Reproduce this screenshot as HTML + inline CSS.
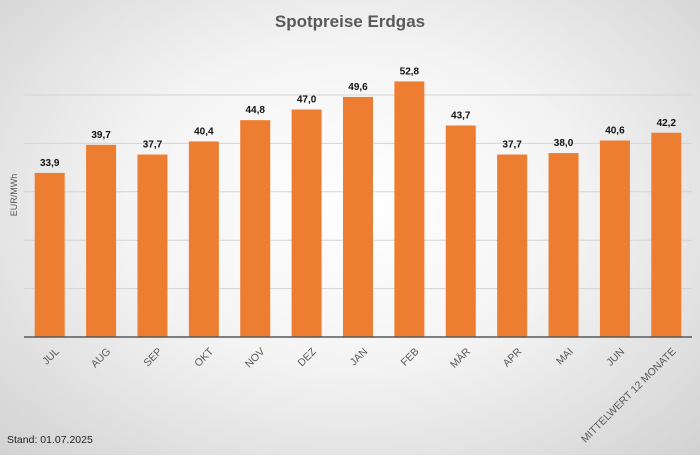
<!DOCTYPE html>
<html><head><meta charset="utf-8"><style>
html,body{margin:0;padding:0}
body{width:700px;height:455px;overflow:hidden;font-family:"Liberation Sans",sans-serif}
#wrap{position:relative;width:700px;height:455px;background:radial-gradient(ellipse at 50% 45%,#ffffff 0%,#f4f4f4 45%,#d2d2d2 100%)}
</style></head><body>
<div id="wrap">
<svg id="c" width="700" height="455"></svg>
</div>
<script>
const categories=["JUL","AUG","SEP","OKT","NOV","DEZ","JAN","FEB","MÄR","APR","MAI","JUN","MITTELWERT 12 MONATE"];
const values=[33.9,39.7,37.7,40.4,44.8,47.0,49.6,52.8,43.7,37.7,38.0,40.6,42.2];
const valueLabels=["33,9","39,7","37,7","40,4","44,8","47,0","49,6","52,8","43,7","37,7","38,0","40,6","42,2"];
const gridTicks=[10,20,30,40,50];
const NS="http://www.w3.org/2000/svg";
const svg=document.getElementById('c');
const x0=24,x1=692,yBase=337,pxPerUnit=4.84;
const band=(x1-x0)/categories.length;
const xc=i=>x0+band*(i+0.5);
const y=v=>yBase-v*pxPerUnit;
function mk(t,a){const e=document.createElementNS(NS,t);for(const k in a)e.setAttribute(k,a[k]);svg.appendChild(e);return e;}
let t=mk('text',{x:350,y:27,'text-anchor':'middle','font-size':17,'font-weight':'bold',fill:'#595959'});t.textContent='Spotpreise Erdgas';


gridTicks.forEach(v=>{const l=mk('line',{x1:x0,x2:x1,y1:y(v),y2:y(v),stroke:'#d4d4d4','stroke-width':1});

});
t=mk('text',{x:0,y:0,transform:'translate(17,195) rotate(-90)','text-anchor':'middle','font-size':9,fill:'#595959'});t.textContent='EUR/MWh';


categories.forEach((c,i)=>{
 const r=mk('rect',{x:xc(i)-15,y:y(values[i]),width:30,height:values[i]*pxPerUnit,fill:'#ed7d31'});
 
 
 const v=mk('text',{x:xc(i),y:y(values[i])-7,'text-anchor':'middle','font-size':10,'font-weight':'bold',fill:'#111'});v.textContent=valueLabels[i];
 
 
 const l=mk('text',{x:0,y:0,transform:`translate(${xc(i)+5},${yBase+10}) rotate(-45)`,'text-anchor':'end','font-size':10.5,fill:'#595959','dominant-baseline':'hanging'});l.textContent=c;
 
 
});
const ax=mk('line',{x1:x0,x2:x1,y1:yBase,y2:yBase,stroke:'#595959','stroke-width':1.5});


t=mk('text',{x:7,y:443,'font-size':10.5,fill:'#222'});t.textContent='Stand: 01.07.2025';


</script>
</body></html>
